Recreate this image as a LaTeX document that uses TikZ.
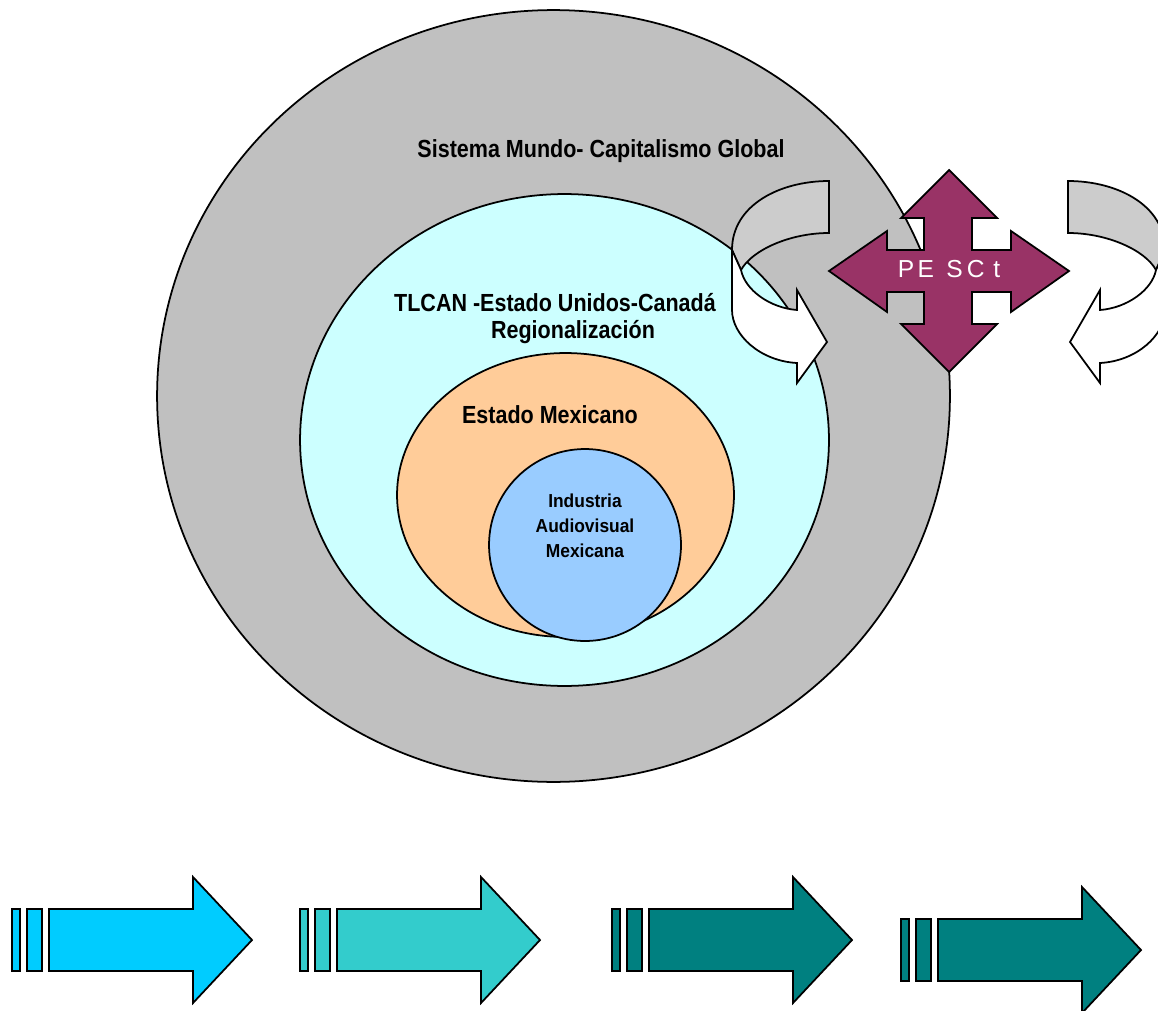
\documentclass[tikz,border=0pt]{standalone}
\usepackage{fontspec}
\usepackage{graphicx}
\setmainfont{Liberation Sans}
\usetikzlibrary{shapes.geometric}
\definecolor{gris}{HTML}{C0C0C0}
\definecolor{celeste}{HTML}{CCFFFF}
\definecolor{naranja}{HTML}{FFCC99}
\definecolor{azul}{HTML}{99CCFF}
\definecolor{cruz}{HTML}{993366}
\definecolor{grisclaro}{HTML}{CCCCCC}
\definecolor{flechaA}{HTML}{00CCFF}
\definecolor{flechaB}{HTML}{33CCCC}
\definecolor{flechaC}{HTML}{008080}
\newcommand\estira[1]{\scalebox{1}[1.15]{#1}}
\newcommand\estirachica[1]{\scalebox{1}[1.08]{#1}}
\tikzset{
  contorno/.style={draw=black, line width=1pt, line join=miter},
  elipse/.style={contorno, ellipse, inner sep=0pt, outer sep=0pt},
  etiqueta/.style={font=\fontsize{12.25}{14}\selectfont\bfseries, inner sep=0pt, anchor=base},
  etiquetachica/.style={font=\fontsize{9.9}{12}\selectfont\bfseries, inner sep=0pt, anchor=base},
  etiquetacruz/.style={font=\fontsize{14}{16}\selectfont, text=white, inner sep=0pt, anchor=base}
}
\newcommand\flecha[3]{%
  \draw[contorno, fill=#3] (#1,#2-31) rectangle (#1+8,#2+31);
  \draw[contorno, fill=#3] (#1+15,#2-31) rectangle (#1+30,#2+31);
  \draw[contorno, fill=#3] (#1+37,#2-31) -- (#1+181,#2-31) -- (#1+181,#2-63) -- (#1+240,#2)
     -- (#1+181,#2+63) -- (#1+181,#2+31) -- (#1+37,#2+31) -- cycle;
}
\newcommand\flechacurva{%
  \draw[contorno, fill=grisclaro] (829,181) .. controls (780,181) and (732,205) .. (732,250)
     -- (741,270) .. controls (752,250) and (790,233) .. (829,233) -- cycle;
  \draw[contorno, fill=white] (732,250) -- (732,310) .. controls (732,335) and (760,361) .. (797,363)
     -- (797,383) -- (827,342) -- (797,290) -- (797,310)
     .. controls (770,308) and (745,290) .. (741,270) -- cycle;
}
\begin{document}
\begin{tikzpicture}[x=0.02cm, y=-0.02cm]
\useasboundingbox (0,0) rectangle (1158,1010);
\clip (0,0) rectangle (1158,1010);
\fill[white] (0,0) rectangle (1158,1010);

% nested circles
\node[elipse, fill=gris, minimum width=15.86cm, minimum height=15.44cm] (mundo) at (553.5,396) {};
\node[elipse, fill=celeste, minimum width=10.58cm, minimum height=9.84cm] (tlcan) at (564.5,440) {};
\node[elipse, fill=naranja, minimum width=6.74cm, minimum height=5.68cm] (estado) at (565.5,495) {};
\node[elipse, fill=azul, minimum width=3.84cm, minimum height=3.84cm] (industria) at (585,545) {};

% labels
\node[etiqueta] (tmundo) at (601,158) {\estira{Sistema Mundo- Capitalismo Global}};
\node[etiqueta] (ttlcan) at (555,311) {\estira{TLCAN -Estado Unidos-Canadá}};
\node[etiqueta] (treg) at (573,338) {\estira{Regionalización}};
\node[etiqueta] (testado) at (550,423) {\estira{Estado Mexicano}};
\node[etiquetachica] (tind1) at (585,507) {\estirachica{Industria}};
\node[etiquetachica] (tind2) at (585,532) {\estirachica{Audiovisual}};
\node[etiquetachica] (tind3) at (585,557) {\estirachica{Mexicana}};

% left curved arrow
\flechacurva

% four-way cross
\draw[contorno, fill=cruz] (949,170) -- (997,218) -- (972,218) -- (972,250) -- (1011,250) -- (1011,231)
  -- (1069,271) -- (1011,312) -- (1011,292) -- (972,292) -- (972,324) -- (997,324) -- (949,372)
  -- (901,324) -- (924,324) -- (924,292) -- (887,292) -- (887,312) -- (829,271) -- (887,231)
  -- (887,250) -- (924,250) -- (924,218) -- (901,218) -- cycle;
\node[etiquetacruz] (pesct) at (949,277) {P\kern1.9pt E\kern7pt S\kern2.4pt C\kern4.9pt t};

% right curved arrow (mirror)
\begin{scope}[shift={(1897,0)}, xscale=-1]
\flechacurva
\end{scope}

% bottom arrows
\flecha{12}{940}{flechaA}
\flecha{300}{940}{flechaB}
\flecha{612}{940}{flechaC}
\flecha{901}{950}{flechaC}
\end{tikzpicture}
\end{document}
